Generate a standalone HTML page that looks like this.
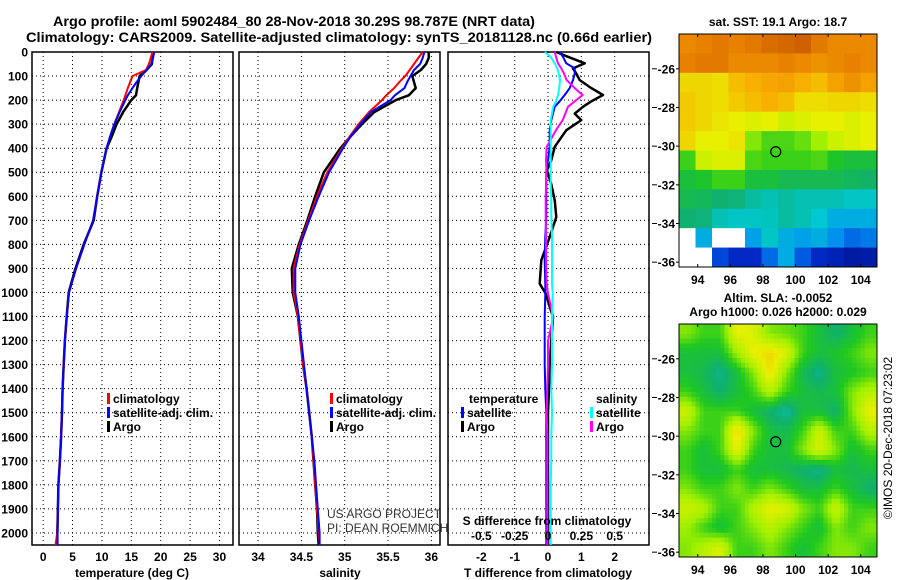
<!DOCTYPE html>
<html><head><meta charset="utf-8"><style>
html,body{margin:0;padding:0;background:#fff;}
svg{display:block;font-family:"Liberation Sans",Arial,sans-serif;}
.b{font-weight:bold;}
</style></head><body>
<svg id="fig" width="900" height="580" viewBox="0 0 900 580">
<rect x="0" y="0" width="900" height="580" fill="#fff"/>
<text x="294" y="26" text-anchor="middle" class="b" font-size="14" textLength="482" lengthAdjust="spacingAndGlyphs">Argo profile: aoml 5902484_80 28-Nov-2018 30.29S 98.787E (NRT data)</text>
<text x="339" y="42" text-anchor="middle" class="b" font-size="14" textLength="626" lengthAdjust="spacingAndGlyphs">Climatology: CARS2009. Satellite-adjusted climatology: synTS_20181128.nc (0.66d earlier)</text>
<g id="plots"></g>
</svg>
<script>
// ---------- profile data ----------
const tDepth = [0,25,50,75,100,125,150,180,200,250,300,350,400,500,600,700,800,900,1000,1100,1200,1300,1400,1500,1600,1700,1800,1900,2000,2050];
const tArgo  = [18.6,18.6,18.5,17.6,16.4,16.2,16.0,15.8,15.0,13.6,12.5,11.7,10.8,9.9,9.2,8.6,6.9,5.5,4.35,4.0,3.7,3.5,3.3,3.2,3.05,2.85,2.6,2.5,2.4,2.3];
const tClim  = [18.6,18.3,18.0,17.5,15.2,14.8,14.4,14.0,13.7,12.9,12.1,11.4,10.8,9.9,9.2,8.5,7.0,5.6,4.4,4.0,3.7,3.5,3.3,3.2,3.05,2.85,2.6,2.5,2.4,2.1];
const tSat   = [18.9,18.7,18.4,17.6,16.7,15.9,15.2,14.4,14.0,13.0,12.1,11.4,10.8,9.9,9.2,8.5,7.0,5.6,4.4,4.0,3.7,3.5,3.3,3.2,3.05,2.85,2.6,2.5,2.45,2.45];
const sArgo  = [35.97,35.97,35.94,35.88,35.78,35.8,35.82,35.74,35.59,35.34,35.2,35.07,34.95,34.76,34.66,34.57,34.47,34.39,34.4,34.46,34.49,34.52,34.56,34.59,34.62,34.64,34.66,34.68,34.69,34.7];
const sClim  = [35.9,35.85,35.8,35.75,35.7,35.63,35.57,35.48,35.43,35.28,35.16,35.06,34.97,34.8,34.68,34.58,34.48,34.41,34.41,34.46,34.49,34.52,34.56,34.59,34.62,34.64,34.66,34.68,34.7,34.71];
const sSat   = [35.92,35.9,35.87,35.8,35.76,35.72,35.69,35.58,35.53,35.3,35.18,35.07,34.98,34.82,34.7,34.59,34.49,34.43,34.43,34.47,34.5,34.53,34.56,34.59,34.62,34.65,34.67,34.69,34.71,34.71];
const dDepth = [0,20,47,68,90,117,150,179,205,228,256,283,325,394,450,491,550,616,686,769,866,963,1005,1102,1200,1300,1400,1500,1600,1700,1800,1900,2000,2050];
const dTArgo = [0.25,0.6,1.1,0.75,0.85,0.95,1.3,1.65,1.3,1.05,0.8,1.0,0.55,0.2,0.1,-0.03,0.1,0.2,0.25,0.05,-0.2,-0.25,-0.07,0.15,0.1,0.05,0.03,0.0,0.0,0.0,0.0,0.0,0.0,0.0];
const dTSat  = [0.35,0.45,0.55,0.8,0.8,0.75,0.65,0.5,0.35,0.2,0.15,0.1,0.05,0.05,0.0,-0.05,-0.05,-0.05,-0.05,-0.08,-0.1,-0.08,-0.08,-0.1,-0.1,-0.1,-0.08,-0.05,-0.05,-0.05,-0.05,-0.05,-0.05,-0.05];
const dSArgo = [0.05,0.06,0.075,0.1,0.12,0.14,0.2,0.26,0.2,0.15,0.13,0.11,0.06,-0.01,-0.015,-0.012,-0.015,-0.017,-0.017,-0.015,-0.015,-0.01,0.0,0.04,0.0,0.0,-0.005,-0.01,-0.005,-0.005,-0.005,-0.005,-0.005,-0.005];
const dSSat  = [-0.025,0.02,0.05,0.07,0.08,0.09,0.085,0.075,0.06,0.04,0.03,0.02,0.02,0.02,0.02,0.02,0.02,0.025,0.025,0.03,0.03,0.03,0.035,0.03,0.03,0.03,0.025,0.03,0.025,0.025,0.02,0.02,0.02,0.02];
const depthTicks = [0,100,200,300,400,500,600,700,800,900,1000,1100,1200,1300,1400,1500,1600,1700,1800,1900,2000];
const tTicks = [0,5,10,15,20,25,30];
const sTicks = [34,34.5,35,35.5,36];
const sTickLabels = ["34","34.5","35","35.5","36"];
const dTTicks = [-2,-1,0,1,2];
const dSTicks = [-0.5,-0.25,0,0.25,0.5];
const dSTickLabels = ["-0.5","-0.25","0","0.25","0.5"];
// ---------- map data (value 0..1 on colormap; -1 = missing) ----------
const sstRows = [
[0.9,0.92,0.93,0.92,0.93,0.95,0.96,0.97,0.93,0.9,0.9,0.9],
[0.92,0.93,0.93,0.9,0.9,0.9,0.92,0.9,0.88,0.9,0.92,0.9],
[0.76,0.76,0.75,0.8,0.82,0.84,0.85,0.82,0.8,0.85,0.88,0.85],
[0.78,0.76,0.75,0.78,0.8,0.82,0.8,0.75,0.75,0.76,0.76,0.75],
[0.78,0.76,0.74,0.72,0.7,0.72,0.68,0.7,0.72,0.72,0.7,0.72],
[0.76,0.72,0.72,0.74,0.6,0.56,0.56,0.58,0.62,0.68,0.7,0.72],
[0.55,0.68,0.7,0.7,0.56,0.55,0.55,0.55,0.56,0.52,0.5,0.5],
[0.5,0.52,0.55,0.55,0.5,0.5,0.48,0.48,0.48,0.48,0.47,0.46],
[0.48,0.47,0.45,0.44,0.4,0.38,0.4,0.38,0.38,0.38,0.36,0.36],
[0.45,0.44,0.38,0.36,0.36,0.37,0.4,0.38,0.35,0.3,0.3,0.3],
[-1,0.3,-1,-1,0.28,0.36,0.3,0.28,0.3,0.25,0.2,0.22],
[-1,-1,0.15,0.1,0.1,0.2,0.3,0.18,0.1,0.08,0.05,0.06]];
const slaRows = [
[0.6,0.55,0.55,0.72,0.7,0.6,0.58,0.55,0.5,0.45,0.5,0.55],
[0.5,0.5,0.5,0.62,0.72,0.76,0.7,0.55,0.5,0.52,0.55,0.6],
[0.5,0.48,0.42,0.5,0.6,0.75,0.6,0.48,0.42,0.5,0.52,0.55],
[0.55,0.5,0.45,0.5,0.55,0.65,0.55,0.5,0.48,0.5,0.6,0.65],
[0.68,0.55,0.55,0.55,0.5,0.45,0.4,0.5,0.5,0.45,0.6,0.72],
[0.6,0.55,0.55,0.76,0.6,0.5,0.48,0.55,0.68,0.55,0.55,0.65],
[0.55,0.5,0.55,0.72,0.55,0.5,0.5,0.6,0.7,0.6,0.5,0.55],
[0.55,0.5,0.5,0.55,0.5,0.5,0.48,0.45,0.42,0.5,0.48,0.5],
[0.6,0.55,0.55,0.6,0.55,0.6,0.55,0.5,0.5,0.55,0.5,0.45],
[0.68,0.65,0.55,0.55,0.65,0.72,0.7,0.6,0.55,0.68,0.55,0.55],
[0.62,0.55,0.5,0.55,0.6,0.65,0.6,0.55,0.5,0.6,0.55,0.6],
[0.6,0.65,0.7,0.55,0.55,0.6,0.55,0.5,0.55,0.6,0.6,0.55]];
const lonTicks = [94,96,98,100,102,104];
const latTicks = [-26,-28,-30,-32,-34,-36];
const argoPos = [98.787,-30.29];

const NS="http://www.w3.org/2000/svg";
const root=document.getElementById('plots');
function mk(tag,attrs,parent){const e=document.createElementNS(NS,tag);for(const k in attrs)e.setAttribute(k,attrs[k]);(parent||root).appendChild(e);return e;}
function txt(s,x,y,attrs,parent){const e=mk('text',Object.assign({x:x,y:y,'font-size':12,'font-weight':'bold'},attrs||{}),parent);e.textContent=s;return e;}

const TOP=52, BOT=545, DMAX=2050;
const yD=d=>TOP+d*(BOT-TOP)/DMAX;
const panels=[
 {x0:32,x1:233,lo:-1.9,hi:32.3},
 {x0:239,x1:440,lo:33.78,hi:36.1},
 {x0:448,x1:649,lo:-3.0,hi:3.03}];
function sx(p,v){return p.x0+(v-p.lo)*(p.x1-p.x0)/(p.hi-p.lo);}

function frame(p,ticks,name){
 const g=mk('g',{});
 
 
 depthTicks.forEach(d=>{const l=mk('line',{x1:p.x0,x2:p.x1,y1:yD(d),y2:yD(d),stroke:'#000','stroke-width':1,'stroke-dasharray':'1,3'},g);
  
  });
 ticks.forEach(v=>{const l=mk('line',{x1:sx(p,v),x2:sx(p,v),y1:TOP,y2:BOT,stroke:'#000','stroke-width':1,'stroke-dasharray':'1,3'},g);
  
  });
 const r=mk('rect',{x:p.x0,y:TOP,width:p.x1-p.x0,height:BOT-TOP,fill:'none',stroke:'#000','stroke-width':1.5},g);
 
 
 return g;
}
function line(p,xs,ds,col,w,name,scale){
 const pts=xs.map((v,i)=>sx(p,v*(scale||1)).toFixed(1)+','+yD(ds[i]).toFixed(1)).join(' ');
 const e=mk('polyline',{points:pts,fill:'none',stroke:col,'stroke-width':w,'stroke-linejoin':'round'});
 
 
}
// depth labels
depthTicks.forEach(d=>{const t=txt(String(d),28,yD(d)+4.5,{'text-anchor':'end'});
 
 });

// panel 1 temperature
const P1=panels[0];frame(P1,tTicks,'temperature-panel');
line(P1,tArgo,tDepth,'#000',2.5,'temperature-argo-line');
line(P1,tClim,tDepth,'#f00',2,'temperature-climatology-line');
line(P1,tSat,tDepth,'#00f',2,'temperature-satellite-line');
tTicks.forEach(v=>{const t=txt(String(v),sx(P1,v),561,{'text-anchor':'middle'});
 
 });
const t1=txt('temperature (deg C)',132,577,{'text-anchor':'middle'});



// panel 2 salinity
const P2=panels[1];frame(P2,sTicks,'salinity-panel');
line(P2,sArgo,tDepth,'#000',2.5,'salinity-argo-line');
line(P2,sClim,tDepth,'#f00',2,'salinity-climatology-line');
line(P2,sSat,tDepth,'#00f',2,'salinity-satellite-line');
sTicks.forEach((v,i)=>{const t=txt(sTickLabels[i],sx(P2,v),561,{'text-anchor':'middle'});
 
 });
const t2=txt('salinity',340,577,{'text-anchor':'middle'});



// panel 3 differences
const P3=panels[2];frame(P3,dTTicks,'difference-panel');
line(P3,dTArgo,dDepth,'#000',2.5,'t-diff-argo-line');
line(P3,dTSat,dDepth,'#00f',2,'t-diff-satellite-line');
line(P3,dSArgo,dDepth,'#f0f',2,'s-diff-argo-line',4);
line(P3,dSSat,dDepth,'#0ff',2,'s-diff-satellite-line',4);
dTTicks.forEach(v=>{const t=txt(String(v),sx(P3,v),561,{'text-anchor':'middle'});
 
 });
dSTicks.forEach((v,i)=>{const t=txt(dSTickLabels[i],sx(P3,v*4),540,{'text-anchor':'middle'});
 
 });
const t3=txt('T difference from climatology',548,577,{'text-anchor':'middle'});


const t4=txt('S difference from climatology',547,525,{'text-anchor':'middle'});



// legends
function legEntry(x,y,col,label,name){
 const g=mk('g',{});
 
 
 mk('rect',{x:x,y:y-10,width:3,height:11,fill:col},g);
 txt(label,x+6,y,{},g);
}
legEntry(107,403,'#f00','climatology','legend-climatology');
legEntry(107,417,'#00f','satellite-adj. clim.','legend-satellite-adj');
legEntry(107,431,'#000','Argo','legend-argo');
legEntry(330,403,'#f00','climatology','legend2-climatology');
legEntry(330,417,'#00f','satellite-adj. clim.','legend2-satellite-adj');
legEntry(330,431,'#000','Argo','legend2-argo');
const lt=txt('temperature',469,403,{});


const ls=txt('salinity',596,403,{});


legEntry(461,417,'#00f','satellite','legend-t-satellite');
legEntry(461,431,'#000','Argo','legend-t-argo');
legEntry(590,417,'#0ff','satellite','legend-s-satellite');
legEntry(590,431,'#f0f','Argo','legend-s-argo');
const c1=txt('US ARGO PROJECT',327,518,{'font-weight':'normal','font-size':12,fill:'#333'});


const c2=txt('PI: DEAN ROEMMICH',327,532,{'font-weight':'normal','font-size':12,fill:'#333'});



// ---------- maps ----------
const cstops=[[0,[0,10,128]],[0.12,[0,48,208]],[0.25,[0,144,240]],[0.35,[0,200,208]],[0.45,[16,176,112]],[0.53,[32,200,32]],[0.62,[160,240,0]],[0.72,[232,240,0]],[0.82,[248,176,0]],[0.92,[232,128,0]],[1,[192,80,0]]];
function cmap(v){for(let i=1;i<cstops.length;i++){if(v<=cstops[i][0]){const a=cstops[i-1],b=cstops[i],f=(v-a[0])/(b[0]-a[0]);
 return 'rgb('+a[1].map((c,k)=>Math.round(c+(b[1][k]-c)*f)).join(',')+')';}}return 'rgb(192,80,0)';}
const MX0=679,MX1=877,LON0=92.85,LON1=105.0,LAT0=-24.2,LAT1=-36.25;
function map(top,bot,rows,smooth,name,title){
 const g=mk('g',{});
 
 
 const lx=v=>MX0+(v-LON0)*(MX1-MX0)/(LON1-LON0);
 const ly=v=>top+(v-LAT0)*(bot-top)/(LAT1-LAT0);
 const nr=rows.length,nc=rows[0].length,cw=(MX1-MX0)/nc,ch=(bot-top)/nr;
 if(!smooth){
  rows.forEach((row,r)=>row.forEach((v,c)=>{
   const e=mk('rect',{x:(MX0+c*cw).toFixed(2),y:(top+r*ch).toFixed(2),width:(cw+0.4).toFixed(2),height:(ch+0.4).toFixed(2),fill:v<0?'#fff':cmap(v)},g);
   
   }));
 } else {
  const sub=4;
  for(let r=0;r<nr*sub;r++)for(let c=0;c<nc*sub;c++){
   const fr=Math.min(nr-1,Math.max(0,(r+0.5)/sub-0.5)),fc=Math.min(nc-1,Math.max(0,(c+0.5)/sub-0.5));
   const r0=Math.floor(fr),c0=Math.floor(fc),r1=Math.min(nr-1,r0+1),c1=Math.min(nc-1,c0+1),ar=fr-r0,ac=fc-c0;
   const v=(rows[r0][c0]*(1-ac)+rows[r0][c1]*ac)*(1-ar)+(rows[r1][c0]*(1-ac)+rows[r1][c1]*ac)*ar;
   const e=mk('rect',{x:(MX0+c*cw/sub).toFixed(2),y:(top+r*ch/sub).toFixed(2),width:(cw/sub+0.4).toFixed(2),height:(ch/sub+0.4).toFixed(2),fill:cmap(v)},g);
   
   
  }
 }
 mk('rect',{x:MX0,y:top,width:MX1-MX0,height:bot-top,fill:'none',stroke:'#000','stroke-width':1},g);
 const ci=mk('circle',{cx:lx(argoPos[0]),cy:ly(argoPos[1]),r:5,fill:'none',stroke:'#000','stroke-width':1.2},g);
 
 
 lonTicks.forEach(v=>{mk('line',{x1:lx(v),x2:lx(v),y1:bot,y2:bot-3,stroke:'#000'},g);mk('line',{x1:lx(v),x2:lx(v),y1:top,y2:top+3,stroke:'#000'},g);
  const t=txt(String(v),lx(v),bot+17,{'text-anchor':'middle'},g);
  
  });
 latTicks.forEach(v=>{mk('line',{x1:MX0,x2:MX0-3,y1:ly(v),y2:ly(v),stroke:'#000'},g);mk('line',{x1:652,x2:657,y1:ly(v),y2:ly(v),stroke:'#000'},g);
  const t=txt(String(v),675,ly(v)+4.5,{'text-anchor':'end'},g);
  
  });
}
map(34,267,sstRows,false,'sst-map');
map(324,557,slaRows,true,'sla-map');
const m1=txt('sat. SST: 19.1 Argo: 18.7',778,26,{'text-anchor':'middle'});


const m2=txt('Altim. SLA: -0.0052',778,302,{'text-anchor':'middle'});


const m3=txt('Argo h1000: 0.026 h2000: 0.029',778,316,{'text-anchor':'middle'});


const im=txt('©IMOS 20-Dec-2018 07:23:02',0,0,{'text-anchor':'middle','font-weight':'normal','font-size':12,transform:'translate(892,438) rotate(-90)'});


</script>
</body></html>
